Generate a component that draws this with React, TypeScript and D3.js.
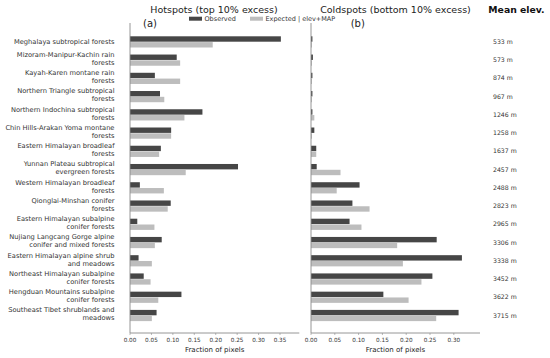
import React from 'react';
import * as d3 from 'd3';

const regions: string[][] = [
  ['Meghalaya subtropical forests'],
  ['Mizoram-Manipur-Kachin rain', 'forests'],
  ['Kayah-Karen montane rain', 'forests'],
  ['Northern Triangle subtropical', 'forests'],
  ['Northern Indochina subtropical', 'forests'],
  ['Chin Hills-Arakan Yoma montane', 'forests'],
  ['Eastern Himalayan broadleaf', 'forests'],
  ['Yunnan Plateau subtropical', 'evergreen forests'],
  ['Western Himalayan broadleaf', 'forests'],
  ['Qionglai-Minshan conifer', 'forests'],
  ['Eastern Himalayan subalpine', 'conifer forests'],
  ['Nujiang Langcang Gorge alpine', 'conifer and mixed forests'],
  ['Eastern Himalayan alpine shrub', 'and meadows'],
  ['Northeast Himalayan subalpine', 'conifer forests'],
  ['Hengduan Mountains subalpine', 'conifer forests'],
  ['Southeast Tibet shrublands and', 'meadows'],
];

const meanElev = [533, 573, 874, 967, 1246, 1258, 1637, 2457, 2488, 2823, 2965, 3306, 3338, 3452, 3622, 3715];

// hotspots (top 10% excess)
const hotObserved = [0.352, 0.109, 0.058, 0.070, 0.169, 0.096, 0.072, 0.252, 0.023, 0.095, 0.017, 0.074, 0.020, 0.032, 0.120, 0.062];
const hotExpected = [0.193, 0.117, 0.117, 0.080, 0.127, 0.096, 0.068, 0.130, 0.079, 0.088, 0.057, 0.058, 0.051, 0.048, 0.066, 0.051];

// coldspots (bottom 10% excess)
const coldObserved = [0.003, 0.004, 0.003, 0.003, 0.003, 0.007, 0.011, 0.012, 0.102, 0.087, 0.081, 0.264, 0.317, 0.255, 0.152, 0.310];
const coldExpected = [0.002, 0.002, 0.002, 0.002, 0.007, 0.002, 0.011, 0.062, 0.054, 0.123, 0.106, 0.181, 0.193, 0.232, 0.205, 0.263];

const hotTicks = [0, 0.05, 0.1, 0.15, 0.2, 0.25, 0.3, 0.35];
const coldTicks = [0, 0.05, 0.1, 0.15, 0.2, 0.25, 0.3];

const font = 'DejaVu Sans, sans-serif';
const dark = '#464646';
const light = '#bdbdbd';
const axisColor = '#8a8a8a';

const top = 23;
const bottom = 333;
const barH = 5.4;

const y = d3.scalePoint<number>()
  .domain(d3.range(regions.length))
  .range([41.7, 315.3]);

type PanelProps = {
  x: d3.ScaleLinear<number, number>;
  observed: number[];
  expected: number[];
  ticks: number[];
};

function Panel({ x, observed, expected, ticks }: PanelProps) {
  const x0 = x(0);
  const fmt = d3.format('.2f');
  return (
    <g>
      {observed.map((v, i) => (
        <rect key={'o' + i} x={x0} y={y(i)! - barH} width={x(v) - x0} height={barH} fill={dark} />
      ))}
      {expected.map((v, i) => (
        <rect key={'e' + i} x={x0} y={y(i)! + 0.4} width={x(v) - x0} height={barH} fill={light} />
      ))}
      <line x1={x0} x2={x0} y1={top} y2={bottom} stroke={axisColor} strokeWidth={0.9} />
      <line x1={x0} x2={x.range()[1]} y1={bottom} y2={bottom} stroke={axisColor} strokeWidth={0.9} />
      {ticks.map(t => (
        <g key={t} transform={`translate(${x(t)},${bottom})`}>
          <line y1={0} y2={2} stroke={axisColor} strokeWidth={0.6} />
          <text y={9} textAnchor="middle" fontSize={5.7} fill="#333">{fmt(t)}</text>
        </g>
      ))}
      <text x={(x0 + x.range()[1]) / 2} y={352} textAnchor="middle" fontSize={7} fill="#222">Fraction of pixels</text>
    </g>
  );
}

export default function App() {
  const xHot = d3.scaleLinear().domain([0, 0.395]).range([130, 299.3]);
  const xCold = d3.scaleLinear().domain([0, 0.355]).range([311, 480]);

  return (
    <svg width={550} height={358} fontFamily={font}
      style={{ position: 'absolute', left: 0, top: 0, background: '#fff' }}>
      <Panel x={xHot} observed={hotObserved} expected={hotExpected} ticks={hotTicks} />
      <Panel x={xCold} observed={coldObserved} expected={coldExpected} ticks={coldTicks} />

      {regions.map((lines, i) => (
        <text key={i} textAnchor="end" fontSize={6.7} fill="#333">
          {lines.length === 1
            ? <tspan x={114.5} y={y(i)! + 2.3}>{lines[0]}</tspan>
            : lines.map((l, j) => (
              <tspan key={j} x={114.5} y={y(i)! - 3 + j * 8}>{l}</tspan>
            ))}
        </text>
      ))}

      {meanElev.map((e, i) => (
        <text key={i} x={493} y={y(i)! + 2.3} fontSize={6.2} fill="#333">{e} m</text>
      ))}

      <text x={214} y={12.5} textAnchor="middle" fontSize={9.5} fill="#222">Hotspots (top 10% excess)</text>
      <text x={395.5} y={12.5} textAnchor="middle" fontSize={9.5} fill="#222">Coldspots (bottom 10% excess)</text>
      <text x={516.5} y={13} textAnchor="middle" fontSize={9.3} fontWeight="bold" fill="#111">Mean elev.</text>
      <text x={143} y={27} fontSize={10} fill="#222">(a)</text>
      <text x={350.7} y={27} fontSize={10} fill="#222">(b)</text>

      <rect x={189} y={16.7} width={13} height={4} fill={dark} />
      <text x={204.5} y={21} fontSize={6.5} fill="#333">Observed</text>
      <rect x={250} y={16.7} width={13} height={4} fill={light} />
      <text x={265.5} y={21} fontSize={6.5} fill="#333">Expected | elev+MAP</text>
    </svg>
  );
}
